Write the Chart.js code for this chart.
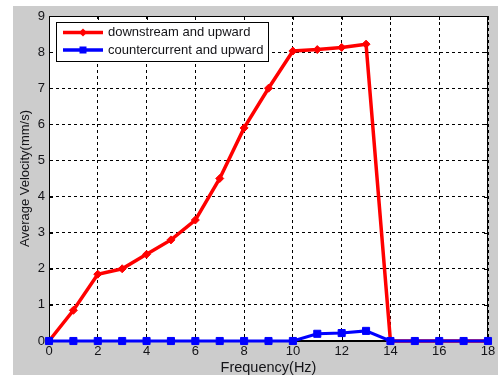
<!DOCTYPE html>
<html>
<head>
<meta charset="utf-8">
<script src="https://cdn.jsdelivr.net/npm/chart.js@4/dist/chart.umd.min.js"></script>
<style>
  html, body { margin: 0; padding: 0; background: #fff; }
  #wrap { width: 504px; height: 377px; }
</style>
</head>
<body>
<div id="wrap"><canvas id="velChart" width="504" height="377"></canvas></div>
<script>
// frequency (Hz)
const freqs = [0, 1, 2, 3, 4, 5, 6, 7, 8, 9, 10, 11, 12, 13, 14, 15, 16, 17, 18];
// average velocity (mm/s)
const downstreamUp = [0, 0.85, 1.85, 2.0, 2.4, 2.8, 3.35, 4.5, 5.9, 7.0, 8.03, 8.07, 8.13, 8.22, 0, 0, 0, 0, 0];
const counterUp    = [0, 0, 0, 0, 0, 0, 0, 0, 0, 0, 0, 0.2, 0.22, 0.28, 0, 0, 0, 0, 0];
const seriesNames = ['downstream and upward', 'countercurrent and upward'];
const xTicks = [0, 2, 4, 6, 8, 10, 12, 14, 16, 18];
const yTicks = [0, 1, 2, 3, 4, 5, 6, 7, 8, 9];

const FONT = 'Liberation Sans, Arial, sans-serif';
const TEXT = '#141418';

const toPoints = (ys) => ys.map((y, i) => ({ x: freqs[i], y: y }));

// figure background, axes box, inner ticks and legend (matlab look)
const matlabFrame = {
  id: 'matlabFrame',
  beforeDraw(chart) {
    const { ctx, chartArea: a } = chart;
    ctx.save();
    ctx.fillStyle = '#ffffff';
    ctx.fillRect(0, 0, chart.width, chart.height);
    ctx.fillStyle = '#cccccc';
    ctx.fillRect(13, 6, 485, 369);
    ctx.fillStyle = '#ffffff';
    ctx.fillRect(a.left, a.top, a.right - a.left, a.bottom - a.top);
    ctx.restore();
  },
  beforeDatasetsDraw(chart) {
    const { ctx, chartArea: a, scales } = chart;
    ctx.save();
    ctx.strokeStyle = '#000';
    ctx.lineWidth = 1;
    ctx.setLineDash([]);
    ctx.strokeRect(a.left + 0.5, a.top + 0.5, a.right - a.left - 1, a.bottom - a.top - 1);
    ctx.beginPath();
    xTicks.forEach(v => {
      const px = Math.round(scales.x.getPixelForValue(v)) + 0.5;
      ctx.moveTo(px, a.bottom); ctx.lineTo(px, a.bottom - 4);
      ctx.moveTo(px, a.top); ctx.lineTo(px, a.top + 4);
    });
    yTicks.forEach(v => {
      const py = Math.round(scales.y.getPixelForValue(v)) + 0.5;
      ctx.moveTo(a.left, py); ctx.lineTo(a.left + 4, py);
      ctx.moveTo(a.right, py); ctx.lineTo(a.right - 4, py);
    });
    ctx.stroke();
    ctx.restore();
  },
  afterDatasetsDraw(chart) {
    const { ctx } = chart;
    const bx = 56, by = 22, bw = 212, bh = 39;
    ctx.save();
    ctx.fillStyle = '#fff';
    ctx.fillRect(bx, by, bw, bh);
    ctx.strokeStyle = '#000';
    ctx.lineWidth = 1;
    ctx.strokeRect(bx + 0.5, by + 0.5, bw, bh);
    chart.data.datasets.forEach((ds, i) => {
      const y = 32.5 + i * 17.5;
      ctx.strokeStyle = ds.borderColor;
      ctx.lineWidth = 3.5;
      ctx.beginPath();
      ctx.moveTo(63, y); ctx.lineTo(103, y);
      ctx.stroke();
      ctx.fillStyle = ds.borderColor;
      ctx.beginPath();
      if (ds.pointStyle === 'rect') {
        ctx.rect(79.5, y - 3.5, 7, 7);
      } else {
        ctx.moveTo(83, y - 4); ctx.lineTo(87, y); ctx.lineTo(83, y + 4); ctx.lineTo(79, y);
        ctx.closePath();
      }
      ctx.fill();
      ctx.fillStyle = TEXT;
      ctx.font = '13px ' + FONT;
      ctx.textBaseline = 'middle';
      ctx.fillText(ds.label, 108, y);
    });
    ctx.restore();
  }
};

const ctx = document.getElementById('velChart').getContext('2d');
new Chart(ctx, {
  type: 'line',
  data: {
    datasets: [
      {
        label: seriesNames[0],
        data: toPoints(downstreamUp),
        borderColor: '#ff0000',
        backgroundColor: '#ff0000',
        borderWidth: 3.5,
        pointStyle: 'rectRot',
        pointRadius: 4,
        pointBorderWidth: 1,
        tension: 0,
        clip: false,
        order: 2
      },
      {
        label: seriesNames[1],
        data: toPoints(counterUp),
        borderColor: '#0000ff',
        backgroundColor: '#0000ff',
        borderWidth: 3,
        pointStyle: 'rect',
        pointRadius: 5,
        pointBorderWidth: 1,
        tension: 0,
        clip: false,
        order: 1
      }
    ]
  },
  options: {
    responsive: false,
    animation: false,
    layout: { padding: { left: 13, top: 16, right: 16, bottom: 0 } },
    plugins: { legend: { display: false }, tooltip: { enabled: false } },
    scales: {
      x: {
        type: 'linear',
        min: 0, max: 18,
        afterFit(scale) { scale.height = 36; },
        afterBuildTicks(scale) { scale.ticks = xTicks.map(v => ({ value: v })); },
        ticks: { color: TEXT, font: { family: FONT, size: 13 }, padding: 3, maxRotation: 0 },
        grid: { color: '#000', lineWidth: 1, drawTicks: false },
        border: { color: '#000', width: 1, dash: [3, 3] },
        title: { display: true, text: 'Frequency(Hz)', color: TEXT, font: { family: FONT, size: 14.5 }, padding: { top: 0, bottom: 0 } }
      },
      y: {
        min: 0, max: 9,
        afterFit(scale) { scale.width = 36; },
        afterBuildTicks(scale) { scale.ticks = yTicks.map(v => ({ value: v })); },
        ticks: { color: TEXT, font: { family: FONT, size: 13 }, padding: 4 },
        grid: { color: '#000', lineWidth: 1, drawTicks: false },
        border: { color: '#000', width: 1, dash: [3, 3] },
        title: { display: true, text: 'Average Velocity(mm/s)', color: TEXT, font: { family: FONT, size: 13 }, padding: { top: 5, bottom: 0 } }
      }
    }
  },
  plugins: [matlabFrame]
});
</script>
</body>
</html>
